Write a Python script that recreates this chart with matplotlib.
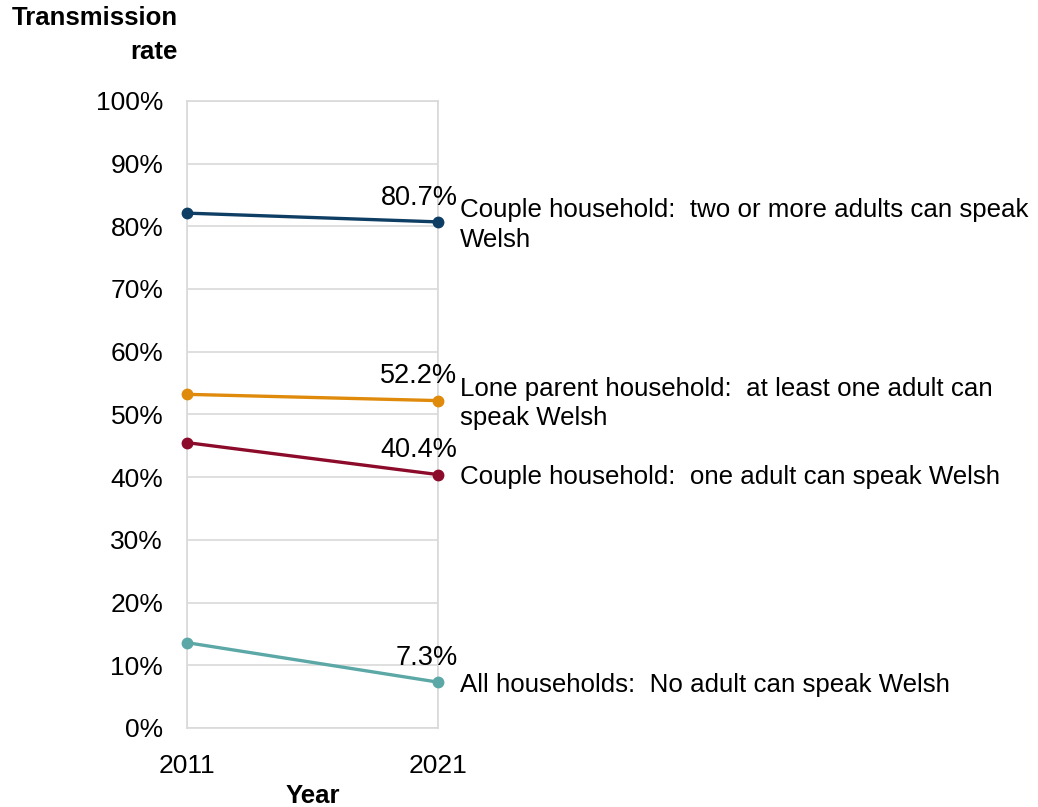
import matplotlib
matplotlib.use("Agg")
import matplotlib.pyplot as plt

plt.rcParams['font.family'] = ['Liberation Sans', 'DejaVu Sans']

years = [2011, 2021]
series_names = [
    "Couple household:  two or more adults can speak\nWelsh",
    "Lone parent household:  at least one adult can\nspeak Welsh",
    "Couple household:  one adult can speak Welsh",
    "All households:  No adult can speak Welsh",
]
values_2011 = [82.1, 53.2, 45.5, 13.6]
values_2021 = [80.7, 52.2, 40.4, 7.3]
colors = ["#0E3E64", "#E08A0B", "#8C0A2A", "#5BA8A6"]
yticks = [0, 10, 20, 30, 40, 50, 60, 70, 80, 90, 100]
ytick_labels = [f"{v}%" for v in yticks]

FS = 19

fig = plt.figure(figsize=(10.38, 8.07), dpi=100)
ax = fig.add_axes([0.180, 0.098, 0.242, 0.777])

for name, v0, v1, c in zip(series_names, values_2011, values_2021, colors):
    ax.plot(years, [v0, v1], color=c, lw=2.4, marker='o', ms=7.5, clip_on=False, zorder=3)
    ax.annotate(f"{v1:.1f}%", xy=(years[1], v1), xytext=(14, 8), textcoords='offset points',
                ha='right', va='bottom', fontsize=FS + 0.5, color='black')
    ax.annotate(name, xy=(years[1], v1), xytext=(16, -2), textcoords='offset points',
                ha='left', va='center', fontsize=18.6, color='black', linespacing=1.3,
                annotation_clip=False)

ax.set_xlim(2011, 2021)
ax.set_ylim(0, 100)
ax.set_xticks(years)
ax.set_xticklabels([str(y) for y in years], fontsize=FS)
ax.set_yticks(yticks)
ax.set_yticklabels(ytick_labels, fontsize=FS)
ax.tick_params(length=0)
ax.tick_params(axis='y', pad=17)
ax.tick_params(axis='x', pad=19)
ax.grid(axis='y', color='#D9D9D9', lw=1.2)
ax.grid(axis='x', color='#D9D9D9', lw=1.2)
for s in ax.spines.values():
    s.set_color('#D9D9D9')
    s.set_linewidth(1.2)
ax.set_axisbelow(True)

fig.text(178/1038, 1 - 6/807, "Transmission\nrate", ha='right', va='top', fontsize=18.5,
         fontweight='bold', linespacing=1.55)
fig.text(313/1038, 1 - 796/807, "Year", ha='center', va='center', fontsize=18.5, fontweight='bold')

fig.savefig("out.png", dpi=100)
